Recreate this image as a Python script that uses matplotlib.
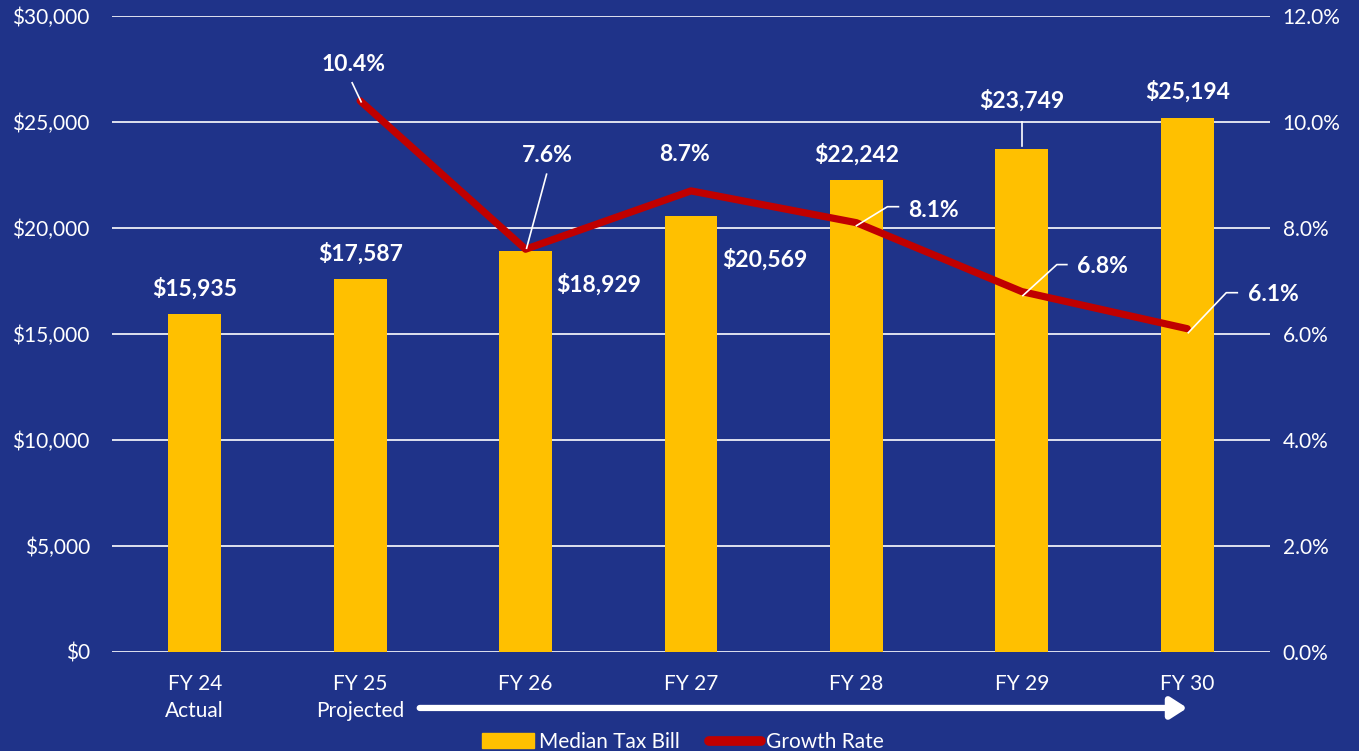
import matplotlib.pyplot as plt
from matplotlib.patches import Patch
from matplotlib.lines import Line2D
from matplotlib.ticker import FuncFormatter, MultipleLocator

plt.rcParams['font.family'] = ['Lato', 'DejaVu Sans']

# ---- Data ----
categories = ["FY 24\nActual", "FY 25\nProjected", "FY 26", "FY 27", "FY 28", "FY 29", "FY 30"]
tax_bill = [15935, 17587, 18929, 20569, 22242, 23749, 25194]
growth_idx = [1, 2, 3, 4, 5, 6]
growth_rate = [10.4, 7.6, 8.7, 8.1, 6.8, 6.1]

# Colors
bg = "#1F3389"
gold = "#FFC000"
red = "#C00000"
white = "white"

fig = plt.figure(figsize=(13.59, 7.51), dpi=100)
fig.patch.set_facecolor(bg)
ax = fig.add_axes([112/1359, 99/751, 1158/1359, 636/751])
ax.set_facecolor(bg)
ax2 = ax.twinx()
ax2.patch.set_visible(False)

x = list(range(len(categories)))
ax.bar(x, tax_bill, width=0.32, color=gold, zorder=2)
ax2.plot(growth_idx, growth_rate, color=red, lw=5.2, solid_capstyle="round",
         solid_joinstyle="round", zorder=3)

ax.set_xlim(-0.5, 6.5)
ax.set_ylim(0, 30000)
ax2.set_ylim(0, 12)
ax.yaxis.set_major_locator(MultipleLocator(5000))
ax2.yaxis.set_major_locator(MultipleLocator(2))
ax.yaxis.set_major_formatter(FuncFormatter(lambda v, p: f"${v:,.0f}"))
ax2.yaxis.set_major_formatter(FuncFormatter(lambda v, p: f"{v:.1f}%"))
ax.set_xticks(x)
ax.set_xticklabels(categories, linespacing=1.45)

ax.grid(axis="y", color=white, lw=1.2, zorder=0)
ax.set_axisbelow(True)
for a in (ax, ax2):
    for s in a.spines.values():
        s.set_visible(False)
    a.tick_params(length=0, colors=white, labelsize=15)
ax.tick_params(axis="y", pad=16)
ax.tick_params(axis="x", pad=16)
ax2.tick_params(axis="y", pad=9)


# ---- Labels (offsets in screen pixels, y downward) ----
def label(a, xv, yv, txt, dx, dy, ha="center"):
    a.annotate(txt, (xv, yv), xytext=(dx, -dy), textcoords="offset pixels",
               ha=ha, va="center", color=white, fontsize=16.5, fontweight="bold", zorder=5)


def leader(a, xv, yv, pts):
    px, py = a.transData.transform((xv, yv))
    inv = a.transData.inverted()
    xs, ys = [], []
    for dx, dy in pts:
        u, v = inv.transform((px + dx, py - dy))
        xs.append(u)
        ys.append(v)
    a.plot(xs, ys, color=white, lw=1.2, zorder=4)


bar_offsets = [(0, -26), (0, -26), (73, 34), (74, 44), (0, -26), (0, -48), (0, -26)]
for i, v in enumerate(tax_bill):
    dx, dy = bar_offsets[i]
    label(ax, i, v, f"${v:,}", dx, dy)
leader(ax, 5, tax_bill[5], [(0, -3), (0, -27)])

growth_offsets = [(-7, -36, "center"), (22, -94, "center"), (-7, -36, "center"),
                  (52, -12, "left"), (55, -25, "left"), (61, -34, "left")]
growth_leaders = [[(1, 1), (-8, -18)], [(1, -1), (21, -75)], None,
                  [(0, 3), (31, -16), (42, -16)], [(1, 4), (35, -27), (45, -27)],
                  [(1, 4), (39, -36), (50, -36)]]
for i, (xi, g) in enumerate(zip(growth_idx, growth_rate)):
    dx, dy, ha = growth_offsets[i]
    label(ax2, xi, g, f"{g:.1f}%", dx, dy, ha)
    if growth_leaders[i]:
        leader(ax2, xi, g, growth_leaders[i])

# Projection arrow under the axis
ax.annotate("", xy=(6.0, -0.088), xytext=(1.36, -0.088),
            xycoords=("data", "axes fraction"), textcoords=("data", "axes fraction"),
            arrowprops=dict(arrowstyle="-|>,head_length=0.7,head_width=0.45", lw=4.5,
                            color=white, shrinkA=0, shrinkB=0, mutation_scale=14),
            annotation_clip=False)

# Legend
handles = [Patch(facecolor=gold, edgecolor=gold),
           Line2D([0], [0], color=red, lw=7, solid_capstyle="round")]
leg = fig.legend(handles, ["Median Tax Bill", "Growth Rate"], loc="center",
                 bbox_to_anchor=(683/1359, 1 - 742/751), ncol=2, frameon=False,
                 fontsize=15, handlelength=2.5, handleheight=0.75, handletextpad=0.25,
                 columnspacing=1.4, labelcolor=white)

fig.savefig("out.png", dpi=100, facecolor=bg)
